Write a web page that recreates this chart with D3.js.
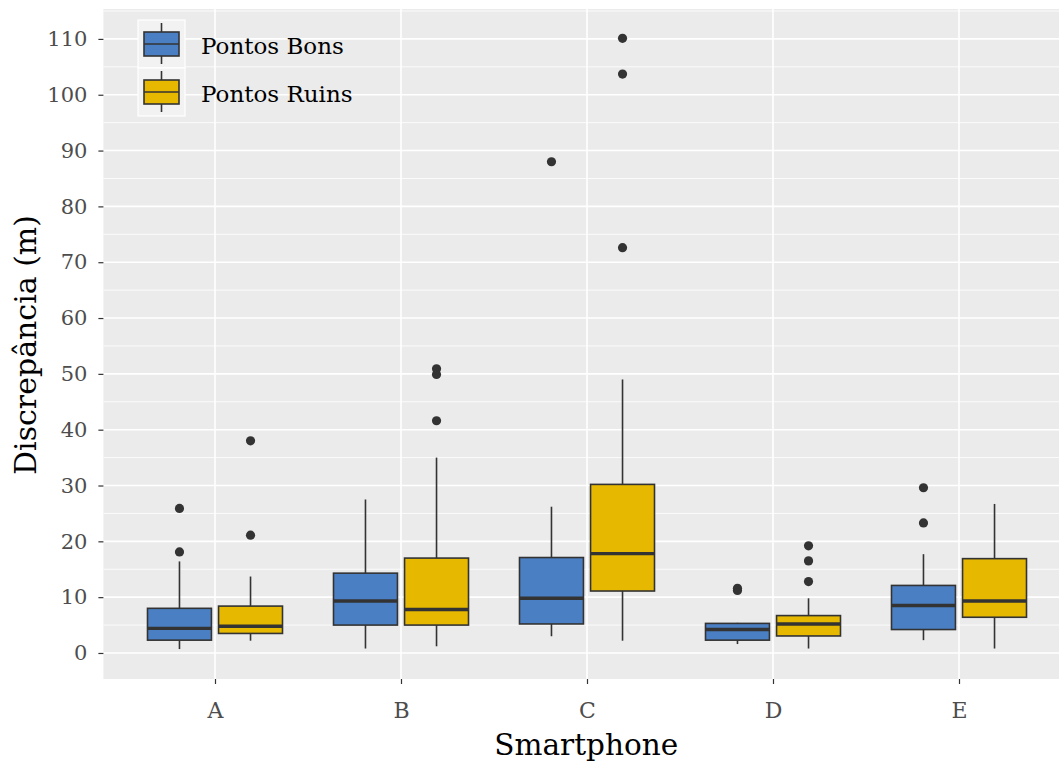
<!DOCTYPE html>
<html>
<head>
<meta charset="utf-8">
<script src="https://cdn.jsdelivr.net/npm/d3@7"></script>
<style>
    body { margin: 0; background: #fff; }
    svg text { font-family: "DejaVu Serif", serif; }
</style>
</head>
<body>
<svg id="chart" width="1059" height="762"></svg>
<script>
const categories = ["A", "B", "C", "D", "E"];
const groups = ["Pontos Bons", "Pontos Ruins"];
const colors = ["#4a7fc3", "#e6b800"];
const yTicks = [0, 10, 20, 30, 40, 50, 60, 70, 80, 90, 100, 110];

// [lower whisker, q1, median, q3, upper whisker] per smartphone
const bonsStats = [
    [0.7, 2.3, 4.4, 8.0, 16.4],
    [0.8, 5.0, 9.3, 14.3, 27.5],
    [3.0, 5.2, 9.8, 17.1, 26.2],
    [1.6, 2.3, 4.2, 5.3, 5.4],
    [2.3, 4.2, 8.5, 12.1, 17.7]
];
const ruinsStats = [
    [2.2, 3.5, 4.8, 8.4, 13.7],
    [1.2, 5.0, 7.8, 17.0, 35.0],
    [2.2, 11.1, 17.8, 30.2, 49.0],
    [0.8, 3.05, 5.2, 6.7, 9.8],
    [0.8, 6.4, 9.3, 16.9, 26.7]
];
const bonsOutliers = [
    [18.1, 25.9],
    [],
    [88.0],
    [11.2, 11.6],
    [23.3, 29.6]
];
const ruinsOutliers = [
    [21.1, 38.0],
    [41.6, 49.9, 50.9],
    [72.6, 103.7, 110.1],
    [12.8, 16.5, 19.2],
    []
];

const svg = d3.select("#chart");
const panel = { left: 103.4, right: 1070.6, top: 9, bottom: 679 };

const x = d3.scalePoint().domain(categories).range([panel.left, panel.right]).padding(0.6);
const xg = d3.scaleBand().domain(groups).range([-67.5, 67.5]).paddingInner(0.1);
const y = d3.scaleLinear().domain([-4.66, 115.36]).range([panel.bottom, panel.top]);

// panel background
svg.append("rect")
    .attr("x", panel.left).attr("y", panel.top)
    .attr("width", panel.right - panel.left).attr("height", panel.bottom - panel.top)
    .attr("fill", "#ebebeb");

// grid
const minor = d3.range(5, 116, 10);
svg.append("g").selectAll("line").data(minor).join("line")
    .attr("x1", panel.left).attr("x2", panel.right)
    .attr("y1", d => y(d)).attr("y2", d => y(d))
    .attr("stroke", "#fff").attr("stroke-width", 0.8);
svg.append("g").selectAll("line").data(yTicks).join("line")
    .attr("x1", panel.left).attr("x2", panel.right)
    .attr("y1", d => y(d)).attr("y2", d => y(d))
    .attr("stroke", "#fff").attr("stroke-width", 1.6);
svg.append("g").selectAll("line").data(categories).join("line")
    .attr("x1", d => x(d)).attr("x2", d => x(d))
    .attr("y1", panel.top).attr("y2", panel.bottom)
    .attr("stroke", "#fff").attr("stroke-width", 1.6);

// boxes
const boxes = [];
categories.forEach((c, i) => {
    boxes.push({ cat: c, grp: groups[0], s: bonsStats[i], out: bonsOutliers[i], col: colors[0] });
    boxes.push({ cat: c, grp: groups[1], s: ruinsStats[i], out: ruinsOutliers[i], col: colors[1] });
});

const bw = xg.bandwidth();
const bg = svg.append("g").selectAll("g").data(boxes).join("g")
    .attr("transform", d => `translate(${x(d.cat) + xg(d.grp) + bw / 2},0)`);

bg.append("line")
    .attr("y1", d => y(d.s[0])).attr("y2", d => y(d.s[1]))
    .attr("stroke", "#333").attr("stroke-width", 1.6);
bg.append("line")
    .attr("y1", d => y(d.s[3])).attr("y2", d => y(d.s[4]))
    .attr("stroke", "#333").attr("stroke-width", 1.6);
bg.append("rect")
    .attr("x", -bw / 2).attr("width", bw)
    .attr("y", d => y(d.s[3])).attr("height", d => y(d.s[1]) - y(d.s[3]))
    .attr("fill", d => d.col).attr("stroke", "#333").attr("stroke-width", 1.6);
bg.append("line")
    .attr("x1", -bw / 2).attr("x2", bw / 2)
    .attr("y1", d => y(d.s[2])).attr("y2", d => y(d.s[2]))
    .attr("stroke", "#333").attr("stroke-width", 3.4);
bg.selectAll("circle").data(d => d.out).join("circle")
    .attr("cy", d => y(d)).attr("r", 4.6)
    .attr("fill", "#333");

// y axis
const yAxis = svg.append("g")
    .attr("transform", `translate(${panel.left},0)`)
    .call(d3.axisLeft(y).tickValues(yTicks).tickSize(5).tickPadding(11));
yAxis.select(".domain").remove();
yAxis.selectAll("line").attr("stroke", "#333").attr("stroke-width", 1.2);
yAxis.selectAll("text").attr("fill", "#4d4d4d").style("font-size", "21px")
    .style("font-family", "DejaVu Serif");

// x axis
const xAxis = svg.append("g")
    .attr("transform", `translate(0,${panel.bottom})`)
    .call(d3.axisBottom(x).tickSize(5));
xAxis.select(".domain").remove();
xAxis.selectAll("line").attr("stroke", "#333").attr("stroke-width", 1.2);
xAxis.selectAll("text").attr("fill", "#4d4d4d").style("font-size", "22px")
    .style("font-family", "DejaVu Serif")
    .attr("y", 39).attr("dy", 0);

// axis titles
svg.append("text")
    .attr("x", (panel.left + 1059) / 2 + 5).attr("y", 755)
    .attr("text-anchor", "middle")
    .style("font-size", "29.5px")
    .text("Smartphone");
svg.append("text")
    .attr("transform", `translate(36,${(panel.top + panel.bottom) / 2 + 1}) rotate(-90)`)
    .attr("text-anchor", "middle")
    .style("font-size", "30px")
    .text("Discrepância (m)");

// legend
const leg = svg.append("g").attr("transform", "translate(138,20)");
const keyH = 48, keyW = 47;
const li = leg.selectAll("g").data(groups).join("g")
    .attr("transform", (d, i) => `translate(0,${i * keyH})`);
li.append("rect").attr("width", keyW).attr("height", keyH)
    .attr("fill", "#f2f2f2").attr("stroke", "#fff").attr("stroke-width", 1.2);
li.append("line").attr("x1", keyW / 2).attr("x2", keyW / 2)
    .attr("y1", 3).attr("y2", keyH - 4)
    .attr("stroke", "#333").attr("stroke-width", 1.6);
li.append("rect").attr("x", 6).attr("y", 12).attr("width", keyW - 12).attr("height", 24)
    .attr("fill", (d, i) => colors[i]).attr("stroke", "#333").attr("stroke-width", 1.6);
li.append("line").attr("x1", 6).attr("x2", keyW - 6)
    .attr("y1", 24).attr("y2", 24)
    .attr("stroke", "#333").attr("stroke-width", 1.6);
li.append("text").attr("x", 63).attr("y", 34)
    .style("font-size", "23px").attr("fill", "#000")
    .text(d => d);
</script>
</body>
</html>
